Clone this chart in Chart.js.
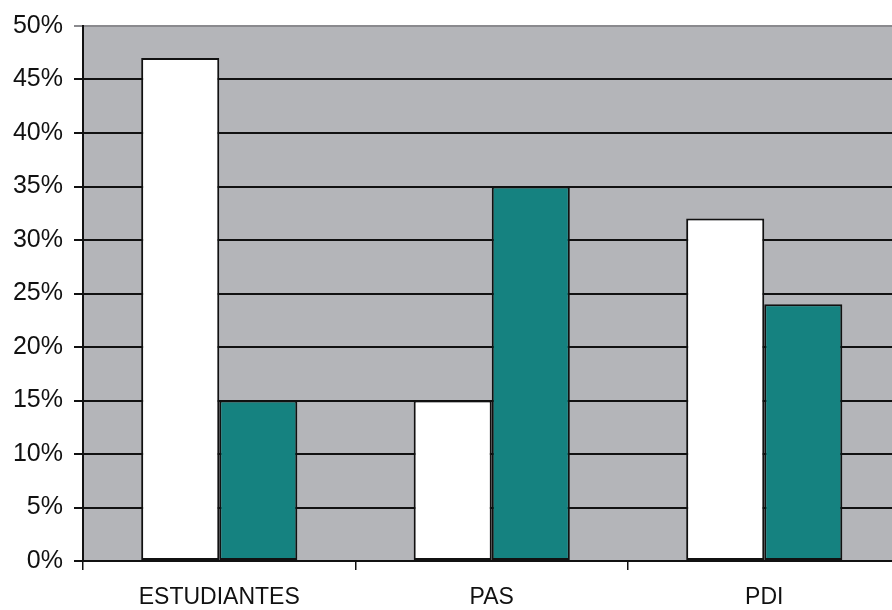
<!DOCTYPE html>
<html>
<head>
<meta charset="utf-8">
<script src="https://cdn.jsdelivr.net/npm/chart.js@4"></script>
<style>
  html, body { margin: 0; padding: 0; background: #fff; overflow: hidden; }
  #wrap { width: 910px; height: 610px; }
</style>
</head>
<body>
<div id="wrap"><canvas id="barChart" width="910" height="610"></canvas></div>
<script>
// Categories and the two series (percent)
const categories = ['ESTUDIANTES', 'PAS', 'PDI'];
const seriesWhite = [47, 15, 32];
const seriesTeal = [15, 35, 24];
const yTicks = [0, 5, 10, 15, 20, 25, 30, 35, 40, 45, 50];

// grey plot background
const plotBg = {
    id: 'plotBg',
    beforeDraw(chart) {
        const a = chart.chartArea, c = chart.ctx;
        c.save();
        c.fillStyle = '#b4b5b9';
        c.fillRect(a.left, a.top, a.right - a.left, a.bottom - a.top);
        c.restore();
    }
};

const ctx = document.getElementById('barChart').getContext('2d');
new Chart(ctx, {
    type: 'bar',
    data: {
        labels: categories,
        datasets: [
            {data: seriesWhite, backgroundColor: '#ffffff', borderColor: '#111', borderWidth: 2, borderSkipped: false},
            {data: seriesTeal, backgroundColor: '#158280', borderColor: '#111', borderWidth: 2, borderSkipped: false}
        ]
    },
    options: {
        responsive: false,
        animation: false,
        layout: {padding: {top: 25, right: 9.5, left: 0, bottom: 0}},
        plugins: {legend: {display: false}, tooltip: {enabled: false}},
        datasets: {bar: {categoryPercentage: 0.573, barPercentage: 1}},
        scales: {
            x: {
                grid: {offset: true, drawOnChartArea: false, drawTicks: true, tickLength: 9, color: '#111', lineWidth: 1.5},
                border: {display: true, color: '#111', width: 2},
                ticks: {color: '#111', padding: 14, font: {family: 'Liberation Sans', size: 23}},
                afterFit(s) { s.height = 49; }
            },
            y: {
                min: 0, max: 50,
                afterBuildTicks(s) { s.ticks = yTicks.map(v => ({value: v})); },
                grid: {
                    color: c => c.tick && c.tick.value === 50 ? '#8a8a8e' : '#111',
                    lineWidth: 2, tickLength: 9
                },
                border: {display: true, color: '#111', width: 2},
                ticks: {color: '#111', padding: 11, font: {family: 'Liberation Sans', size: 25}, callback: v => v + '%'},
                afterFit(s) { s.width = 83; }
            }
        }
    },
    plugins: [plotBg]
});
</script>
</body>
</html>
